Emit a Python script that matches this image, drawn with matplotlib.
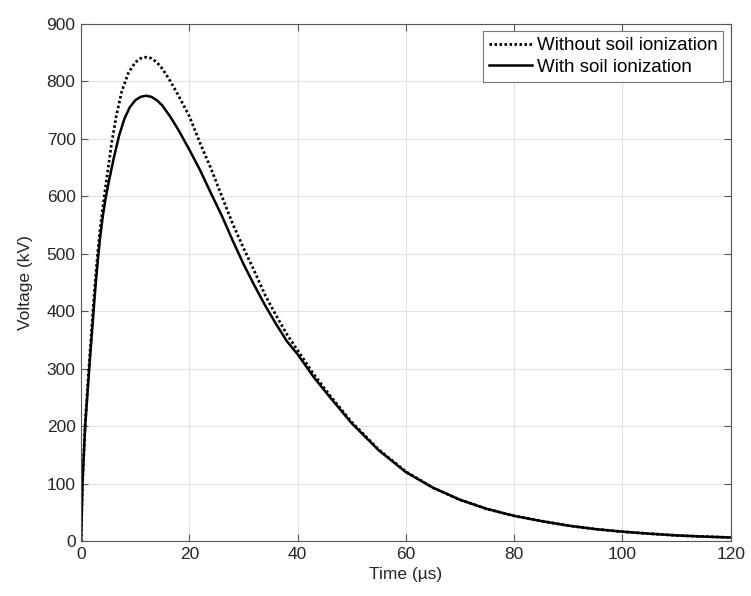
import numpy as np
import matplotlib
matplotlib.use("Agg")
import matplotlib.pyplot as plt

plt.rcParams['font.family'] = ['Liberation Sans', 'DejaVu Sans']

######
# Values
######
t_with = [0, 0.25, 0.75, 1.5, 2.3, 2.7, 3.1, 3.5, 4, 4.5, 5, 6, 7, 8, 9, 10,
          11, 12, 13, 14, 15, 16.5, 18, 20, 22, 24, 26, 28, 30, 32, 34, 36,
          38, 40, 43, 46, 50, 55, 60, 65, 70, 75, 80, 85, 90, 95, 100, 105,
          110, 115, 120]
v_with = [0, 100, 200, 300, 400, 448, 490, 527, 565, 595, 620, 665, 705, 735,
          755, 767, 773, 775, 773, 767, 758, 738, 715, 681, 645, 605, 566,
          523, 482, 445, 410, 378, 348, 325, 285, 250, 205, 158, 120, 93, 72,
          56, 44, 35, 27, 21, 16.5, 13, 10, 8, 6.4]

t_without = [0, 0.25, 0.75, 1.5, 2.3, 2.7, 3.1, 3.5, 4, 4.7, 5.6, 6.5, 7.5,
             8.7, 10, 11, 12, 13, 14, 15, 16.5, 18, 20, 22, 24, 26, 28, 30, 32,
             34, 36, 38, 40, 43, 46, 50, 55, 60, 65, 70, 75, 80, 85, 90, 95,
             100, 105, 110, 115, 120]
v_without = [0, 100, 205, 310, 415, 462, 505, 542, 580, 628, 690, 740, 782,
             814, 833, 840, 842, 840, 833, 822, 800, 775, 739, 692, 648, 600,
             552, 510, 470, 428, 393, 360, 332, 290, 253, 207, 159, 121, 93,
             72, 56, 44, 35, 27, 21, 16.5, 13, 10, 8, 6.4]

x_ticks = np.arange(0, 121, 20)
y_ticks = np.arange(0, 901, 100)

fig = plt.figure(figsize=(7.51, 5.96), dpi=100)
ax = fig.add_axes([0.108, 0.092, 0.865, 0.868])

ax.plot(t_without, v_without, color='black', lw=2.0, linestyle=(0, (0.9, 0.9)),
        label='Without soil ionization')
ax.plot(t_with, v_with, color='black', lw=1.8, label='With soil ionization')

ax.set_xlim(0, 120)
ax.set_ylim(0, 900)
ax.set_xticks(x_ticks)
ax.set_yticks(y_ticks)
ax.grid(True, color='#e3e3e3', lw=0.8)
ax.set_axisbelow(True)
ax.tick_params(direction='in', top=True, right=True, length=5,
               labelsize=12.5, color='#555555', labelcolor='#262626', pad=4)
for s in ax.spines.values():
    s.set_color('#555555')
    s.set_linewidth(0.8)

ax.set_xlabel('Time (µs)', fontsize=12.5, color='#262626', labelpad=4)
ax.set_ylabel('Voltage (kV)', fontsize=12.5, color='#262626', labelpad=10)

leg = ax.legend(loc='upper right', fontsize=13.5, fancybox=False,
                edgecolor='#777777', framealpha=1, handlelength=2.3,
                handletextpad=0.25, borderpad=0.3, labelspacing=0.25,
                borderaxespad=0.4)
leg.get_frame().set_linewidth(0.8)

fig.savefig('out.png', dpi=100)
